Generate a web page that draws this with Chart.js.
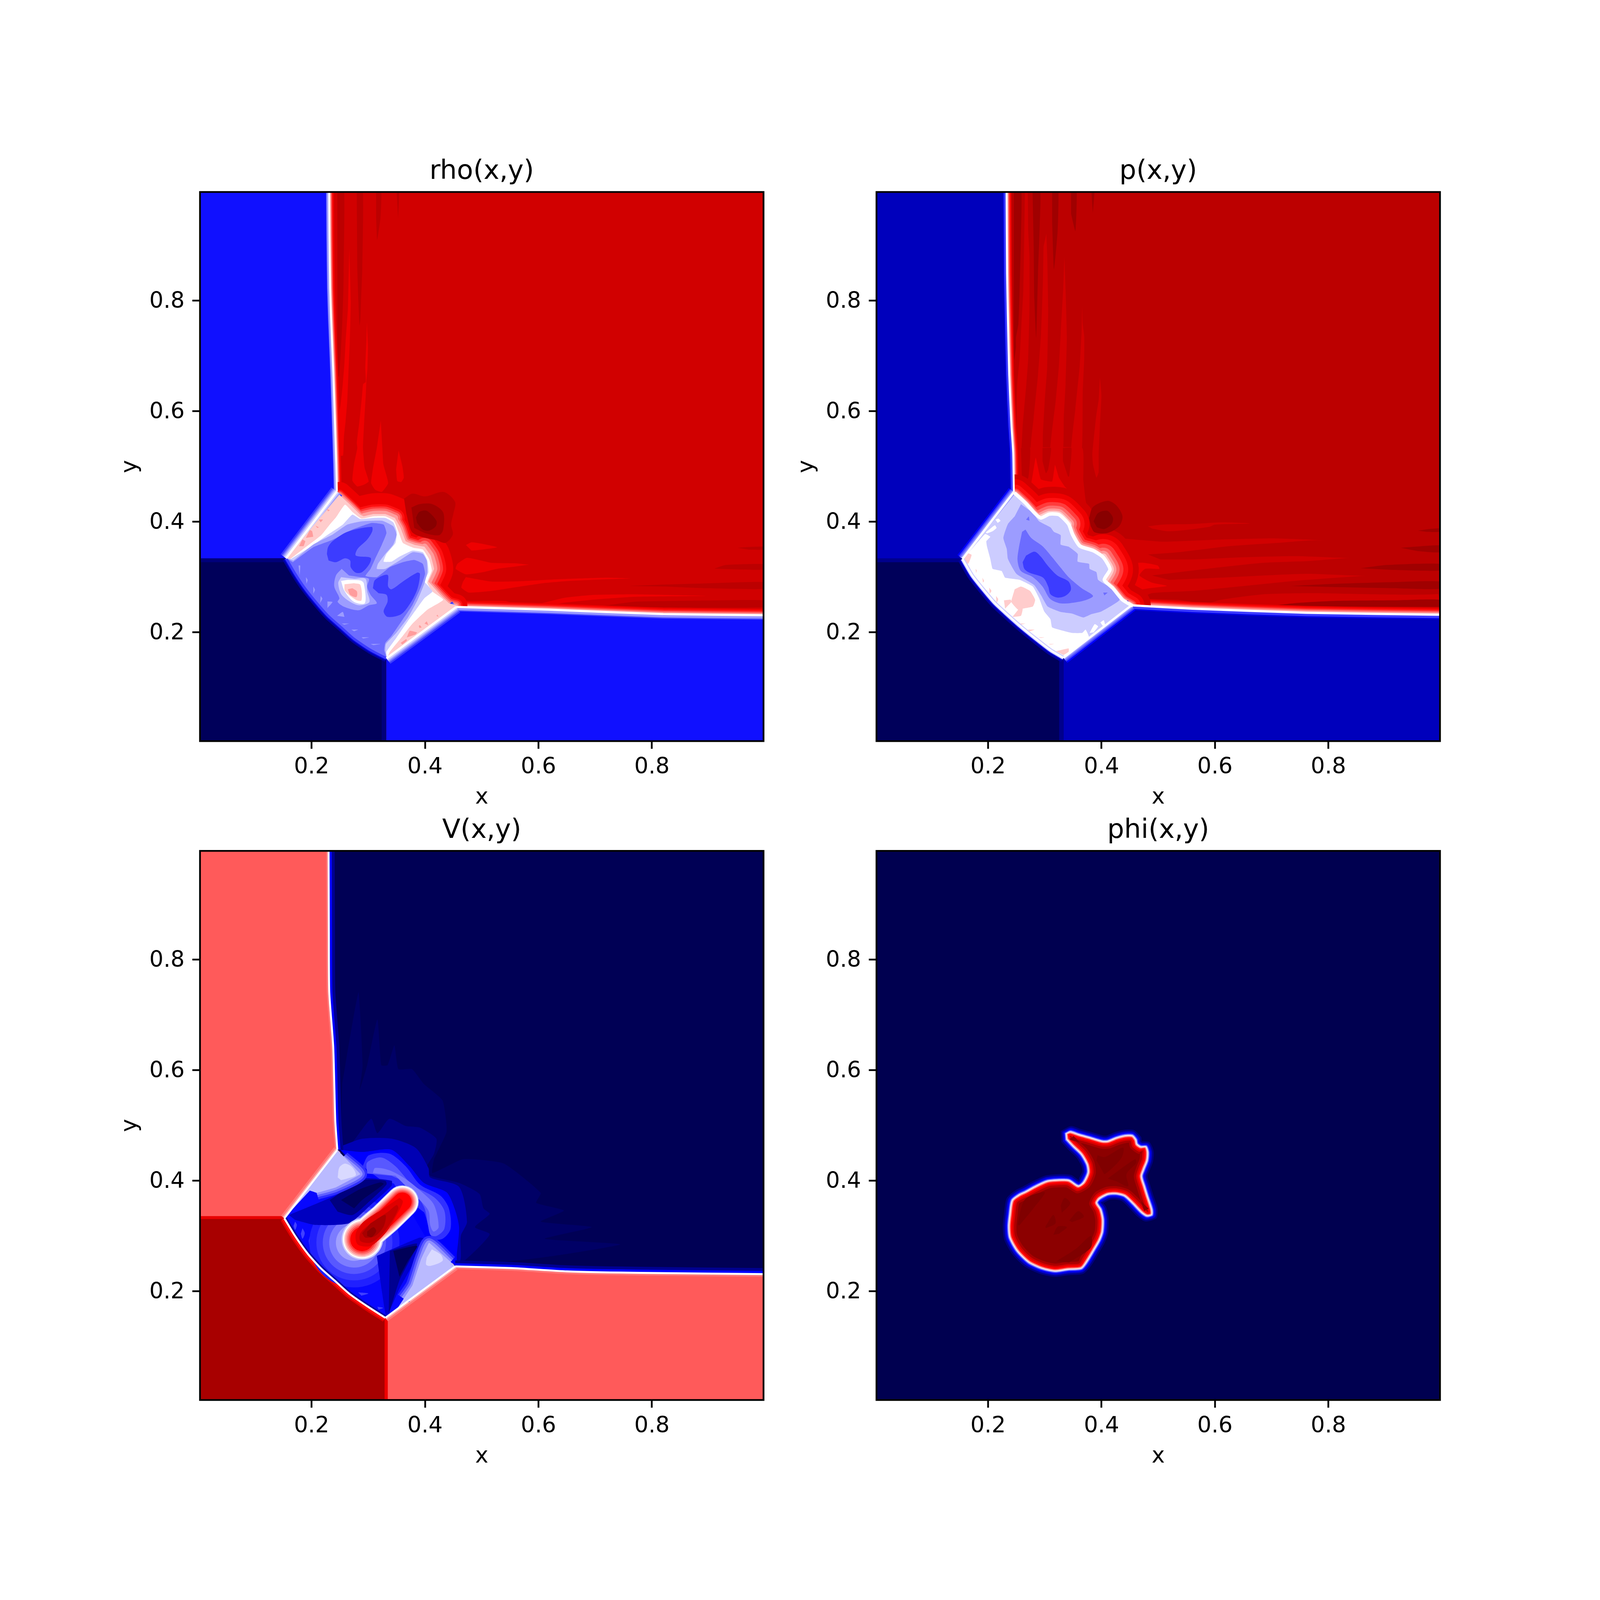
<!DOCTYPE html>
<html>
<head>
<meta charset="utf-8">
<title>rho p V phi</title>
<script src="https://cdn.jsdelivr.net/npm/chart.js@4/dist/chart.umd.js"></script>
<style>
html,body{margin:0;padding:0;background:#fff;width:100%;height:100%;overflow:hidden}
canvas{position:absolute}
</style>
</head>
<body>
<script>
var tickValues = [0.2, 0.4, 0.6, 0.8];
var axisMin = 0.00333, axisMax = 0.99667;
var wholeBox = [[0,0],[1,0],[1,1],[0,1]];
var frameBox = [[axisMin,axisMin],[axisMax,axisMin],[axisMax,axisMax],[axisMin,axisMax],[axisMin,axisMin]];

// all sizes below are written for a 5000px page, K fits them to the real window
var K = Math.min(window.innerWidth, window.innerHeight) / 5000;

// ---- rho ----
var rhoUpShock = [[.231,1],[.2315,.92],[.2327,.823],[.2345,.765],[.2383,.669],[.2402,.611],[.242,.553],[.2435,.504],[.2446,.455]];
var rhoLeftDiag = [[.2446,.455],[.155,.334]];
var rhoCurve = [[.155,.334],[.171,.306],[.188,.280],[.209,.253],[.229,.230],[.252,.209],[.275,.188],[.304,.168],[.332,.153]];
var rhoRightDiag = [[.332,.153],[.455,.246]];
var rhoRightShock = [[.455,.246],[.618,.241],[.820,.233],[.996,.231],[1,.231]];
var rhoContactA = [[.249,.449],[.269,.430],[.286,.413],[.292,.410]];
var rhoContactB1 = [[.292,.410],[.309,.414],[.330,.414],[.347,.407]];
var rhoContactB2 = [[.347,.407],[.357,.389],[.366,.365],[.383,.358],[.399,.355]];
var rhoContactB3 = [[.399,.355],[.410,.339],[.416,.315],[.406,.292]];
var rhoContactC = [[.406,.292],[.427,.268],[.442,.253],[.455,.249]];
var rhoWhiteEdge = [[.160,.331],[.188,.353],[.217,.376],[.232,.395],[.243,.408],[.259,.431],[.272,.418],[.288,.406],[.309,.410],[.330,.410],[.345,.402],[.353,.383],[.361,.362],[.380,.353],[.396,.350],[.407,.333],[.412,.312],[.404,.290],[.413,.274],[.432,.259],[.404,.241],[.378,.216],[.361,.194],[.338,.165]];
var rhoPaleEdge = [[.164,.333],[.197,.354],[.229,.377],[.255,.395],[.272,.413],[.286,.405],[.309,.407],[.330,.407],[.344,.399],[.350,.383],[.348,.362],[.332,.342],[.327,.328],[.341,.328],[.355,.337],[.378,.348],[.396,.345],[.404,.330],[.406,.309],[.399,.292],[.404,.286],[.413,.274],[.399,.262],[.384,.241],[.370,.221],[.350,.191],[.332,.165]];
var rhoMidEdge = [[.168,.330],[.203,.359],[.237,.377],[.263,.395],[.289,.401],[.324,.402],[.344,.392],[.350,.377],[.344,.359],[.330,.342],[.317,.324],[.315,.315],[.330,.315],[.355,.330],[.378,.345],[.396,.342],[.403,.330],[.404,.309],[.399,.289],[.387,.259],[.370,.227],[.350,.200],[.331,.179],[.330,.168]];
var rhoDeepEdge = [[.167,.327],[.203,.354],[.236,.367],[.272,.386],[.306,.398],[.327,.395],[.332,.380],[.324,.359],[.312,.333],[.304,.315],[.295,.302],[.315,.300],[.338,.318],[.361,.327],[.381,.331],[.396,.324],[.400,.306],[.393,.283],[.378,.250],[.361,.224],[.341,.194],[.330,.181],[.328,.168]];
var rhoLobeUpper = [[.227,.342],[.229,.354],[.237,.365],[.263,.382],[.306,.391],[.307,.383],[.298,.368],[.281,.351],[.278,.339],[.304,.335],[.302,.324],[.289,.309],[.278,.308],[.269,.318],[.268,.330],[.259,.334],[.243,.327],[.230,.330]];
var rhoLobeLower = [[.308,.280],[.312,.295],[.334,.304],[.335,.283],[.341,.278],[.361,.292],[.386,.308],[.391,.306],[.387,.280],[.376,.256],[.358,.233],[.334,.228],[.327,.238],[.334,.256],[.332,.268],[.318,.271]];
var rhoIsland1 = [[.253,.315],[.243,.303],[.240,.283],[.249,.262],[.246,.255],[.258,.246],[.283,.240],[.301,.249],[.315,.253],[.304,.268],[.298,.283],[.301,.297],[.286,.300],[.266,.303]];
var rhoIsland2 = [[.252,.300],[.247,.289],[.253,.268],[.272,.253],[.286,.249],[.302,.255],[.298,.274],[.295,.297],[.275,.297]];
var rhoIsland3 = [[.252,.293],[.258,.275],[.275,.255],[.294,.253],[.292,.289],[.286,.294],[.263,.295]];
var rhoIsland4 = [[.258,.287],[.259,.275],[.278,.259],[.288,.258],[.286,.286],[.275,.289]];
var rhoIsland5 = [[.264,.278],[.268,.268],[.279,.264],[.280,.274],[.272,.280]];
var rhoSpecks = [
  [[.177,.321],[.180,.321],[.179,.303]],[[.190,.300],[.193,.295],[.191,.288]],[[.203,.283],[.206,.277],[.203,.270]],
  [[.216,.266],[.219,.261],[.215,.253]],[[.228,.256],[.237,.255],[.228,.244]],[[.245,.230],[.255,.237],[.258,.228]],
  [[.253,.216],[.266,.216],[.258,.214]],[[.270,.205],[.282,.205],[.275,.202]],[[.288,.191],[.301,.191],[.291,.189]],
  [[.304,.179],[.321,.179],[.309,.177]]
];
var rhoPinkDots = [
  [[.178,.356],[.184,.368],[.189,.365],[.186,.356]],[[.190,.371],[.197,.385],[.201,.383],[.203,.373]],
  [[.207,.393],[.213,.390],[.210,.389]],[[.213,.404],[.220,.404],[.216,.399]],[[.227,.423],[.232,.421],[.229,.419]],
  [[.357,.181],[.367,.188],[.368,.185],[.360,.178]],[[.368,.191],[.373,.203],[.386,.200],[.383,.196]],
  [[.389,.212],[.391,.213],[.394,.209],[.390,.208]],[[.399,.216],[.403,.220],[.406,.213]],[[.420,.230],[.422,.232],[.424,.228]]
];
var rhoHalo1 = [[.363,.442],[.378,.451],[.400,.446],[.433,.454],[.453,.436],[.450,.415],[.446,.395],[.449,.377],[.436,.362],[.419,.367],[.390,.374],[.376,.383],[.367,.415]];
var rhoHalo2 = [[.376,.426],[.390,.432],[.413,.432],[.432,.417],[.432,.386],[.425,.376],[.402,.379],[.381,.389]];
var rhoHalo3 = [[.384,.408],[.390,.418],[.403,.420],[.420,.402],[.419,.392],[.407,.384],[.396,.386],[.386,.398]];
var rhoBright = [
  [[.2665,.895],[.269,.80],[.2674,.726],[.265,.669],[.263,.62],[.26,.582],[.257,.553],[.2555,.52],[.249,.52],[.247,.588],[.251,.611],[.255,.649],[.258,.688],[.26,.726],[.264,.784]],
  [[.2975,.761],[.2994,.717],[.2985,.678],[.2966,.653],[.2956,.630],[.2928,.582],[.2909,.543],[.2906,.5335],[.2935,.498],[.3007,.473],[.292,.467],[.2806,.464],[.272,.4745],[.2748,.504],[.2806,.5335],[.2797,.543],[.2844,.582],[.2891,.630],[.2909,.649],[.2956,.653],[.2947,.678],[.2966,.726]],
  [[.322,.583],[.3248,.533],[.3266,.504],[.335,.470],[.3238,.454],[.312,.458],[.305,.470],[.308,.495],[.315,.5335]],
  [[.3534,.529],[.360,.501],[.3626,.480],[.358,.472],[.351,.474],[.349,.495]],
  [[.472,.358],[.482,.363],[.502,.360],[.527,.354],[.502,.350],[.482,.348]],
  [[.583,.3226],[.558,.325],[.517,.326],[.474,.335],[.457,.324],[.454,.315],[.472,.305],[.502,.309],[.527,.315],[.558,.319]],
  [[.472,.300],[.517,.292],[.568,.2925],[.633,.296],[.719,.299],[.762,.2976],[.719,.296],[.653,.293],[.608,.289],[.568,.283],[.517,.275],[.477,.272],[.464,.281],[.467,.292]],
  [[.588,.2467],[.603,.252],[.648,.263],[.694,.2677],[.769,.2688],[.895,.266],[.769,.2644],[.694,.259],[.643,.2533],[.608,.2455]],
  [[.452,.250],[.482,.2566],[.542,.2566],[.568,.2478]]
];
var rhoDarkBands = [
  [[.2454,1],[.2573,1],[.2565,.85],[.2562,.823],[.2543,.765],[.2515,.707],[.2485,.663],[.2465,.663],[.2455,.72]],
  [[.2796,1],[.2904,1],[.2895,.86],[.2872,.80],[.2860,.765],[.2844,.755],[.2825,.80],[.2805,.86]],
  [[.3138,1],[.3228,1],[.3215,.95],[.3156,.91],[.3138,.95]],
  [[.3498,1],[.3545,1],[.3525,.948]],
  [[.951,.353],[.971,.3545],[.997,.355],[.997,.3497],[.971,.3497]],
  [[.910,.3153],[.930,.322],[.997,.3235],[.997,.3138],[.956,.3138]],
  [[.759,.284],[.820,.2865],[.895,.2887],[.997,.2910],[.997,.2788],[.895,.2799],[.820,.283]],
  [[.663,.2467],[.719,.2489],[.769,.2555],[.895,.2577],[.997,.258],[.997,.2456],[.769,.2456]]
];

// ---- p ----
var pUpShock = [[.2326,1],[.2335,.849],[.2352,.758],[.2373,.666],[.2412,.574],[.2443,.525],[.2455,.454]];
var pLeftDiag = [[.2455,.454],[.155,.333]];
var pCurve = [[.155,.333],[.172,.303],[.192,.277],[.212,.253],[.233,.233],[.256,.212],[.281,.191],[.310,.168],[.333,.154]];
var pRightDiag = [[.333,.154],[.453,.249]];
var pRightShock = [[.453,.249],[.560,.243],[.761,.2356],[.993,.232],[1,.232]];
var pContactA = [[.248,.451],[.267,.433],[.282,.416],[.293,.407]];
var pContactB1 = [[.293,.407],[.308,.414],[.325,.413],[.342,.396]];
var pContactB2 = [[.342,.396],[.349,.377],[.362,.356],[.385,.348],[.403,.336]];
var pContactB3 = [[.403,.336],[.415,.314],[.405,.295]];
var pContactC = [[.405,.295],[.420,.280],[.437,.259],[.453,.249]];
var pWhiteEdge = [[.159,.336],[.195,.378],[.204,.373],[.197,.365],[.198,.356],[.204,.333],[.208,.315],[.224,.311],[.230,.299],[.256,.295],[.279,.283],[.290,.262],[.299,.238],[.310,.224],[.313,.209],[.348,.199],[.366,.199],[.372,.205],[.378,.191],[.345,.162],[.335,.154]];
var pMid = [[.258,.432],[.279,.416],[.290,.401],[.310,.390],[.316,.382],[.328,.376],[.328,.359],[.342,.355],[.358,.342],[.358,.328],[.378,.324],[.379,.315],[.391,.309],[.394,.295],[.417,.280],[.432,.259],[.400,.238],[.382,.233],[.368,.227],[.348,.234],[.328,.237],[.305,.247],[.293,.268],[.281,.286],[.250,.306],[.235,.333],[.233,.351],[.227,.371],[.235,.396],[.247,.410]];
var pDeep = [[.266,.386],[.276,.371],[.296,.356],[.313,.336],[.328,.317],[.342,.300],[.365,.280],[.385,.266],[.371,.258],[.345,.253],[.325,.253],[.309,.261],[.296,.283],[.279,.300],[.258,.311],[.252,.330],[.254,.351],[.260,.382]];
var pCore = [[.267,.339],[.282,.346],[.293,.337],[.305,.321],[.322,.303],[.342,.292],[.346,.277],[.336,.266],[.322,.263],[.310,.269],[.306,.283],[.297,.299],[.273,.308],[.264,.315],[.261,.327]];
var pTinyDeep = [[[.267,.404],[.272,.410],[.273,.402]],[[.403,.272],[.411,.272],[.405,.267]]];
var pWhiteSpots = [
  [[.196,.381],[.212,.394],[.215,.389],[.208,.383],[.198,.379]],[[.213,.404],[.218,.406],[.222,.402],[.217,.398]],
  [[.379,.199],[.388,.215],[.394,.211],[.386,.200]],[[.398,.218],[.404,.222],[.406,.214],[.402,.212]]
];
var pPinkBlobs = [
  [[.247,.278],[.258,.283],[.274,.275],[.283,.259],[.279,.247],[.261,.243],[.253,.241],[.241,.255],[.244,.268]],
  [[.228,.258],[.240,.259],[.241,.255],[.230,.243]],[[.253,.241],[.261,.243],[.258,.230],[.243,.228]],
  [[.159,.339],[.165,.343],[.171,.340],[.165,.324],[.158,.331]],[[.320,.166],[.342,.171],[.342,.165],[.333,.159]],
  [[.178,.315],[.180,.312],[.179,.307]],[[.190,.299],[.193,.293],[.191,.290]],[[.202,.281],[.206,.275],[.203,.270]],
  [[.214,.266],[.218,.260],[.215,.253]],[[.254,.216],[.266,.216],[.258,.214]],[[.270,.205],[.282,.205],[.274,.202]],
  [[.289,.191],[.299,.191],[.293,.190]],[[.307,.179],[.316,.179],[.310,.178]]
];
var pHalo1 = [[.378,.407],[.385,.427],[.410,.438],[.426,.430],[.437,.410],[.431,.392],[.411,.380],[.388,.381],[.381,.392]];
var pHalo2 = [[.386,.401],[.394,.416],[.410,.420],[.420,.408],[.418,.396],[.405,.387],[.392,.390]];
var pDarkBands = [
  [[.2455,1],[.2585,1],[.2579,.911],[.2557,.819],[.2535,.758],[.2492,.733],[.2492,.715],[.246,.693],[.2455,.758]],
  [[.2784,1],[.2918,1],[.2913,.941],[.2881,.849],[.2849,.733],[.2816,.803],[.2805,.895]],
  [[.313,1],[.3237,1],[.3227,.926],[.3162,.857],[.313,.941]],
  [[.3464,1],[.3561,1],[.354,.926],[.3464,.957]],
  [[.3821,1],[.3875,1],[.3847,.958]]
];
var pLightBands = [
  [[.2650,1],[.2697,1],[.2708,.926],[.273,.880],[.273,.788],[.2708,.696],[.2676,.650],[.2637,.605],[.2611,.574],[.2579,.523],[.2514,.523],[.2503,.605],[.2514,.650],[.2557,.696],[.2589,.758],[.2622,.819],[.2637,.911]],
  [[.3028,.921],[.3043,.880],[.3060,.788],[.3043,.681],[.3,.620],[.2967,.559],[.2952,.523],[.2751,.523],[.2805,.589],[.2881,.666],[.2935,.742],[.2967,.834],[.2978,.898]],
  [[.3345,.880],[.3367,.819],[.3389,.736],[.3367,.650],[.3335,.589],[.3313,.523],[.3097,.523],[.3194,.620],[.3248,.681],[.3281,.742],[.3324,.819]],
  [[.3659,.791],[.3669,.758],[.3695,.736],[.3695,.696],[.3669,.635],[.3648,.523],[.3464,.523],[.354,.605],[.3615,.681],[.3648,.742]],
  [[.3972,.661],[.3998,.629],[.3972,.574],[.395,.523],[.395,.49],[.391,.480],[.385,.504],[.3838,.523],[.3907,.592],[.395,.62]]
];
var pHood = [[.247,.5335],[.366,.5335],[.368,.475],[.372,.439],[.378,.407],[.374,.383],[.36,.36],[.25,.40]];
var pHoodFingers = [[[.258,.5335],[.274,.5335],[.271,.480],[.260,.467]],[[.296,.5335],[.311,.5335],[.306,.495],[.302,.488],[.296,.510]],[[.332,.5335],[.347,.5335],[.343,.482],[.341,.482],[.332,.510]]];
var pHot = [[.251,.454],[.264,.469],[.276,.470],[.284,.516],[.293,.477],[.313,.473],[.318,.503],[.325,.480],[.336,.463],[.359,.442],[.372,.410],[.368,.386],[.371,.377],[.40,.36],[.25,.40]];
var pHotRight = [[[.449,.325],[.474,.326],[.499,.321],[.502,.315],[.477,.315],[.467,.303],[.489,.290],[.515,.284],[.467,.276],[.454,.252],[.429,.290],[.444,.312]],[[.509,.248],[.585,.254],[.575,.245]]];
var pWarmRight = [[.399,.373],[.459,.368],[.509,.364],[.610,.368],[.701,.370],[.789,.366],[.880,.335],[.923,.303],[.993,.270],[1,.236],[.454,.248],[.449,.312]];
var pRightFingers = [
  [[.482,.341],[.535,.345],[.625,.356],[.711,.362],[.789,.366],[.880,.335],[.741,.338],[.651,.336],[.560,.332],[.504,.332]],
  [[.489,.303],[.610,.318],[.686,.326],[.762,.329],[.880,.335],[.923,.303],[.762,.306],[.686,.303],[.610,.299],[.519,.295]],
  [[.467,.261],[.489,.271],[.560,.275],[.661,.285],[.762,.295],[.923,.303],[.998,.270],[.762,.271],[.686,.269],[.610,.259],[.585,.252],[.535,.259]]
];
var pLightTop = [[.482,.392],[.509,.395],[.560,.396],[.610,.399],[.661,.397],[.600,.395],[.590,.391],[.520,.383],[.489,.388]];
var pRightDark = [
  [[.928,.353],[.953,.355],[.998,.357],[.998,.345],[.958,.347]],[[.857,.316],[.903,.322],[.998,.324],[.998,.312],[.913,.313]],
  [[.731,.284],[.812,.288],[.913,.291],[.998,.292],[.998,.279],[.913,.280],[.812,.282]],
  [[.691,.247],[.741,.253],[.812,.257],[.913,.258],[.998,.259],[.998,.246]],[[.958,.384],[.978,.387],[.998,.388],[.998,.382],[.973,.382]]
];

// ---- V ----
var vUpShock = [[.2300,1],[.2305,.85],[.2312,.741],[.2382,.642],[.2418,.509],[.2454,.456]];
var vLeftDiag = [[.2454,.456],[.152,.332]];
var vCurve = [[.152,.332],[.171,.300],[.194,.267],[.217,.241],[.240,.220],[.266,.196],[.298,.173],[.330,.152]];
var vRightDiag = [[.330,.152],[.453,.245]];
var vRightShock = [[.453,.245],[.553,.242],[.65,.236],[.779,.2333],[1,.231]];
var vFan = [[.2454,.456],[.286,.412],[.320,.400],[.345,.395],[.40,.30],[.407,.288],[.453,.245]];
var vGlow0 = [[.254,.575],[.262,.625],[.276,.708],[.283,.741],[.290,.609],[.285,.565],[.298,.609],[.316,.692],[.323,.609],[.334,.609],[.346,.645],[.353,.602],[.377,.602],[.398,.575],[.431,.545],[.438,.489],[.416,.439],[.413,.414],[.467,.439],[.539,.431],[.604,.378],[.596,.360],[.645,.346],[.604,.326],[.694,.316],[.611,.295],[.744,.285],[.647,.267],[.575,.257],[.467,.253],[.251,.456]];
var vGlow1 = [[.249,.456],[.269,.466],[.305,.512],[.316,.486],[.337,.512],[.366,.499],[.391,.496],[.420,.476],[.416,.449],[.402,.423],[.409,.409],[.460,.396],[.496,.376],[.503,.350],[.514,.340],[.488,.316],[.514,.303],[.467,.253],[.452,.250]];
var vGlow2 = [[.251,.462],[.290,.476],[.341,.476],[.384,.459],[.406,.423],[.409,.406],[.460,.389],[.474,.326],[.463,.300],[.460,.253],[.40,.28]];
var vGlow3 = [[.251,.456],[.290,.452],[.341,.456],[.373,.426],[.398,.396],[.438,.379],[.452,.350],[.460,.316],[.456,.267],[.454,.247],[.40,.28]];
var vGlow4 = [[.290,.426],[.301,.446],[.337,.449],[.366,.426],[.391,.393],[.427,.373],[.442,.350],[.445,.313],[.431,.295],[.413,.296],[.398,.343]];
var vGlow5 = [[.298,.413],[.298,.433],[.323,.442],[.348,.426],[.377,.393],[.416,.370],[.434,.346],[.434,.313],[.420,.300],[.409,.303],[.398,.353],[.366,.396],[.341,.409]];
var vGlow6 = [[.308,.414],[.312,.423],[.337,.419],[.366,.403],[.395,.379],[.416,.356],[.424,.316],[.415,.308],[.409,.320],[.406,.346],[.380,.376],[.348,.409]];
var vChannel = [[.384,.330],[.398,.343],[.407,.300],[.373,.243],[.319,.267],[.334,.280]];
var vRingCentre = [[.275,.288],[.276,.289]];
var vDarkUp1 = [[.160,.338],[.243,.374],[.289,.404],[.341,.400],[.341,.391],[.304,.356],[.266,.323],[.206,.320],[.171,.329]];
var vDarkUp2 = [[.232,.365],[.286,.400],[.330,.400],[.332,.393],[.298,.359],[.272,.338],[.246,.344]];
var vDarkUp3 = [[.252,.365],[.286,.385],[.321,.397],[.327,.394],[.289,.365],[.275,.350]];
var vDarkLow1 = [[.315,.264],[.390,.297],[.402,.294],[.376,.244],[.355,.205],[.332,.155],[.324,.199]];
var vDarkLow2 = [[.338,.273],[.386,.286],[.355,.220],[.336,.158]];
var vDarkLow3 = [[.344,.273],[.386,.282],[.370,.255],[.355,.226]];
var vWedgeUpEdge = [[.255,.442],[.286,.412],[.243,.388],[.209,.378]];
var vWedgeUp = [[.2454,.456],[.286,.412],[.243,.388],[.209,.378],[.197,.382],[.152,.332]];
var vWedgeUpPale = [[.246,.406],[.249,.424],[.259,.431],[.272,.424],[.278,.410],[.263,.404],[.252,.401]];
var vWedgeLowEdge = [[.445,.253],[.407,.288],[.393,.258],[.378,.211],[.362,.187]];
var vWedgeLow = [[.453,.246],[.407,.288],[.393,.258],[.378,.211],[.350,.167],[.332,.152]];
var vWedgeLowPale = [[.412,.276],[.428,.266],[.431,.255],[.410,.246],[.402,.248],[.403,.261]];
var vCapsule = [[.289,.291],[.304,.309],[.330,.332],[.360,.362]];
var vCapsuleEnd = [[.289,.294],[.290,.295]];
var vCore1 = [[.355,.369],[.361,.362],[.350,.338],[.330,.305],[.304,.282],[.281,.285],[.278,.305],[.292,.326],[.327,.350]];
var vCore2 = [[.335,.344],[.350,.356],[.353,.350],[.341,.326],[.324,.303],[.304,.288],[.286,.291],[.286,.305],[.304,.323]];
var vCore3 = [[.304,.323],[.330,.338],[.327,.317],[.312,.300],[.295,.297],[.289,.305]];
var vCore4 = [[.298,.308],[.309,.316],[.314,.309],[.306,.298],[.298,.300]];
var vPetals = [[[.171,.326],[.174,.320],[.171,.311],[.168,.318]],[[.184,.314],[.188,.305],[.184,.295],[.181,.304]],[[.197,.300],[.200,.291],[.197,.280],[.195,.291]],[[.263,.210],[.278,.214],[.272,.208]],[[.282,.198],[.300,.196],[.288,.192]],[[.316,.172],[.326,.170],[.318,.167]]];

// ---- phi ----
var phiOutline = [[.338,.485],[.345,.488],[.360,.483],[.381,.477],[.401,.471],[.411,.471],[.426,.477],[.441,.481],[.454,.481],[.460,.474],[.462,.466],[.469,.461],[.478,.461],[.481,.452],[.480,.437],[.474,.421],[.470,.408],[.475,.390],[.481,.370],[.488,.348],[.488,.339],[.480,.337],[.471,.343],[.456,.359],[.441,.373],[.426,.377],[.411,.376],[.396,.368],[.391,.360],[.398,.348],[.402,.330],[.401,.308],[.396,.293],[.386,.275],[.373,.253],[.364,.242],[.340,.240],[.318,.237],[.295,.242],[.272,.253],[.252,.273],[.239,.297],[.237,.317],[.239,.339],[.243,.364],[.255,.374],[.267,.380],[.285,.390],[.305,.399],[.328,.401],[.343,.400],[.359,.390],[.369,.397],[.377,.415],[.375,.430],[.365,.448],[.350,.463],[.339,.475]];
var phiBlotches = [
  [[.393,.446],[.406,.443],[.438,.460],[.435,.441],[.406,.412],[.401,.419],[.391,.437]],
  [[.411,.404],[.459,.439],[.461,.432],[.444,.412],[.447,.390],[.426,.399]],
  [[.252,.321],[.265,.366],[.300,.379],[.280,.350],[.255,.319]],
  [[.328,.355],[.335,.369],[.345,.359],[.330,.342]],
  [[.343,.328],[.359,.345],[.369,.335],[.348,.325]],
  [[.301,.317],[.315,.338],[.319,.323],[.302,.314]],
  [[.315,.302],[.323,.317],[.339,.316],[.325,.304]],
  [[.320,.254],[.355,.277],[.381,.300],[.381,.279],[.343,.252]]
];

// colours of the contour levels
var blue1='#ccccff', blue2='#9c9cff', blue3='#6c6cff', blue4='#3c3cff', blue5='#1010ff';
var red1='#ffcccc', red2='#ff9c9c', red3='#ff6c6c', red4='#ff3c3c', red5='#ff1010', red6='#ee0000', red7='#d10000', red8='#bc0000', red9='#a00000', red10='#880000';
var navy='#00005a';

function pts(a){ return a.map(function(p){ return {x:p[0],y:p[1]}; }); }
function area(points,color,tension){
  return {data:pts(points),showLine:true,pointRadius:0,borderWidth:0,borderColor:color,backgroundColor:color,
    fill:'shape',tension:tension===undefined?0.3:tension,clip:0};
}
function line(points,color,width,cap){
  return {data:pts(points),showLine:true,pointRadius:0,borderWidth:width*K,borderColor:color,fill:false,
    tension:0.2,borderJoinStyle:'round',borderCapStyle:cap||'butt',clip:0};
}
function areas(list,color,tension){ return list.map(function(a){ return area(a,color,tension); }); }
function shift(points,dx,dy){ return points.map(function(p){ return [p[0]+dx,p[1]+dy]; }); }
function back(points){ return points.slice().reverse(); }
function lines(points,specs,cap){ return specs.map(function(s){ return line(points,s[0],s[1],cap); }); }
// same contact line, a wider band on some stretches than on others
function bands(parts,colors,widths){
  var out=[];
  colors.forEach(function(c,i){ parts.forEach(function(part,j){ out.push(line(part,c,widths[j][i],'round')); }); });
  return out;
}
function grow(ring,d){
  var s=0,n=ring.length;
  ring.forEach(function(p,i){ var q=ring[(i+1)%n]; s+=p[0]*q[1]-q[0]*p[1]; });
  var sign=s>0?1:-1;
  return ring.map(function(p,i){
    var a=ring[(i-1+n)%n], b=ring[(i+1)%n], dx=b[0]-a[0], dy=b[1]-a[1], len=Math.sqrt(dx*dx+dy*dy);
    return [p[0]+sign*d*dy/len, p[1]-sign*d*dx/len];
  });
}

function rhoLayers(){
  var diamond=[].concat(rhoContactA,rhoContactB1,rhoContactB2,rhoContactB3,rhoContactC,back(rhoRightDiag),back(rhoCurve));
  var tl=[].concat([[0,1]],rhoUpShock,[[.155,.334],[0,.3333]]);
  var br=[].concat([[.3315,0],[.3315,.153]],rhoRightDiag,rhoRightShock,[[1,0]]);
  var bl=[].concat([[0,0],[0,.3333]],rhoCurve,[[.3315,.153],[.3315,0]]);
  return [].concat(
    [area(wholeBox,red7,0)],
    areas(rhoDarkBands,red8,.15),
    areas(rhoBright,red6,.15),
    lines(rhoRightShock,[[red6,40],[red5,32],[red4,24],[red3,18],[red2,12]]),
    lines(rhoUpShock,[[red6,30],[red5,22],[red4,18],[red3,14],[red2,10]]),
    bands([rhoContactA,rhoContactB1,rhoContactB2,rhoContactB3,rhoContactC],[red6,red5,red4,red3,red2],
      [[80,32,24,18,10],[130,60,46,34,20],[66,46,34,24,14],[120,76,56,38,20],[70,40,30,20,10]]),
    [area(rhoHalo1,red8),area(rhoHalo2,red9),area(rhoHalo3,red10)],
    [area(tl,blue5,0),area(br,blue5,0),area(bl,navy,0)],
    [line([[.3275,0],[.3275,.153]],'#00007a',14),line([[0,.3305],[.155,.3305]],'#00007a',12)],
    lines(shift(rhoUpShock,-.003,0),[[blue4,10],[blue2,6]]),
    lines(shift(rhoRightShock,0,-.004),[[blue4,14],[blue3,9],[blue2,5]]),
    lines(rhoLeftDiag,[[blue4,42],[blue3,32],[blue2,24],[blue1,16]]),
    lines(rhoRightDiag,[[blue4,42],[blue3,32],[blue2,24],[blue1,16]]),
    lines(rhoCurve,[['#0000a0',24],['#0000e0',14]]),
    [area(diamond,red1,.05)],
    [area(rhoWhiteEdge.concat(back(rhoCurve)),'#ffffff',.15),
     area(rhoPaleEdge.concat(back(rhoCurve)),blue1,.15),
     area(rhoMidEdge.concat(back(rhoCurve)),blue2,.15),
     area(rhoDeepEdge.concat(back(rhoCurve)),blue3,.15)],
    [area(rhoLobeUpper,blue4),area(rhoLobeLower,blue4)],
    [area(rhoIsland1,blue2),area(rhoIsland2,blue1),area(rhoIsland3,'#ffffff'),area(rhoIsland4,red1),area(rhoIsland5,red2)],
    areas(rhoSpecks,blue2,.2),
    areas(rhoPinkDots,red2,.1),
    lines(rhoCurve,[[blue4,8]]),
    lines(rhoLeftDiag,[['#ffffff',7]]),
    lines(rhoRightDiag,[['#ffffff',7]]),
    lines(rhoUpShock,[['#ffffff',6]]),
    lines(rhoRightShock,[['#ffffff',7]])
  );
}

function pLayers(){
  var base='#bc0000', blueP='#0000bc', mid=red7;
  var diamond=[].concat(pContactA,pContactB1,pContactB2,pContactB3,pContactC,back(pRightDiag),back(pCurve));
  var tl=[].concat([[0,1]],pUpShock,[[.155,.333],[0,.3333]]);
  var br=[].concat([[.3333,0],[.3333,.154]],pRightDiag,pRightShock,[[1,0]]);
  var bl=[].concat([[0,0],[0,.3333]],pCurve,[[.3333,.154],[.3333,0]]);
  return [].concat(
    [area(wholeBox,base,0)],
    areas(pDarkBands,red9,.15),
    areas(pLightBands,mid,.15),
    [area(pHood,mid,.1)],
    areas(pHoodFingers,base,.15),
    [area(pWarmRight,mid,.1)],
    areas(pRightFingers,base,.2),
    [area(pLightTop,mid)],
    areas(pRightDark,red9,.2),
    [area(pHot,red6,.1)],
    areas(pHotRight,red6,.2),
    lines(pRightShock,[[red6,42],[red5,34],[red4,26],[red3,20],[red2,14]]),
    lines(pUpShock,[[red6,30],[red5,24],[red4,18],[red3,14],[red2,10]]),
    bands([pContactA,pContactB1,pContactB2,pContactB3,pContactC],[mid,red6,red5,red4,red3,red2,red1],
      [[120,90,56,32,24,16,8],[170,130,100,74,52,34,20],[110,84,66,50,36,24,14],[180,144,114,84,60,40,24],[120,80,56,32,24,16,8]]),
    [area(pHalo1,red9),area(pHalo2,red10)],
    [area(tl,blueP,0),area(br,blueP,0),area(bl,navy,0)],
    [line([[.3293,0],[.3293,.154]],'#00008c',14),line([[0,.3305],[.155,.3305]],'#00008c',12)],
    lines(shift(pUpShock,-.003,0),[['#0000e8',12],[blue4,7]]),
    lines(shift(pRightShock,0,-.004),[['#0000e8',16],[blue4,8]]),
    lines(pLeftDiag,[['#0000ff',40],[blue4,30],[blue3,22],[blue2,14]]),
    lines(pRightDiag,[['#0000ff',40],[blue4,30],[blue3,22],[blue2,14]]),
    lines(pCurve,[['#0000a0',30],['#0000e0',18]]),
    [area(diamond,blue1,.05)],
    [area(pWhiteEdge.concat(back(pCurve)),'#ffffff',.1)],
    areas(pWhiteSpots,'#ffffff',.15),
    areas(pPinkBlobs,red1,.15),
    [area(pMid,blue2,.15),area(pDeep,blue3),area(pCore,blue4)],
    areas(pTinyDeep,blue3,0),
    lines(pCurve,[[blue1,12],['#ffffff',6]]),
    lines(pLeftDiag,[['#ffffff',7]]),
    lines(pRightDiag,[['#ffffff',7]]),
    lines(pContactA.concat(pContactB1.slice(1),pContactB2.slice(1),pContactB3.slice(1),pContactC.slice(1)),[['#ffffff',11]],'round'),
    lines(pUpShock,[['#ffffff',6]]),
    lines(pRightShock,[['#ffffff',7]])
  );
}

function vLayers(){
  var salmon='#ff5a5a', dark='#a80000', pale='#babaff', paler='#d9d9ff';
  var fan=vFan.concat([[.330,.152]],back(vCurve).slice(1));
  var tl=[].concat([[0,1]],vUpShock,[[.152,.332],[0,.3333]]);
  var br=[].concat([[.3315,0],[.3315,.152]],vRightDiag,vRightShock,[[1,0]]);
  var bl=[].concat([[0,0],[0,.3333]],vCurve,[[.3315,.152],[.3315,0]]);
  return [].concat(
    [area(wholeBox,'#000055',0)],
    [area(vGlow0,'#000066',.15),area(vGlow1,'#000080',.2),area(vGlow2,'#0000b4',.25),area(vGlow3,'#0000ff',.25),
     area(vGlow4,'#3030ff',.3),area(vGlow5,'#5858ff',.3),area(vGlow6,'#7878ff',.3)],
    [area(vChannel,'#0000ff',.2)],
    lines(vUpShock,[['#000090',38],['#0000ff',20]]),
    lines(vRightShock,[['#000090',38],['#0000ff',20]]),
    [area(tl,salmon,0),area(br,salmon,0),area(bl,dark,0)],
    [line([[.3315,0],[.3315,.152]],'#f00000',10),line([[0,.3333],[.152,.3333]],'#e80000',9)],
    lines(shift(vUpShock,-.002,0),[['#ff7878',8]]),
    lines(shift(vRightShock,0,-.0025),[['#ff7878',8]]),
    lines(vLeftDiag,[['#ff7878',26],['#ffaaaa',14]]),
    lines(vRightDiag,[['#ff7878',26],['#ffaaaa',14]]),
    lines(vCurve,[['#e00000',28],['#ff1010',18]]),
    [area(fan,'#0808ff',.03)],
    areas(vPetals,'#4040ff',.3),
    lines(vRingCentre,[['#2020ff',280],['#3838ff',236],['#5858ff',196],['#7c7cff',156],['#a0a0ff',114]],'round'),
    [area(vDarkUp1,'#0000c0',.2),area(vDarkUp2,'#000080',.25),area(vDarkUp3,'#00005a',.25)],
    [area(vDarkLow1,'#0000d0',.15),area(vDarkLow2,'#000090',.15),area(vDarkLow3,'#00005a',.2)],
    lines(vWedgeUpEdge,[['#3030ff',42],['#6060ff',28],['#9090ff',14]]),
    lines(vWedgeLowEdge,[['#3030ff',42],['#6060ff',28],['#9090ff',14]]),
    [area(vWedgeUp,pale,.03),area(vWedgeLow,pale,.03)],
    [area(vWedgeUpPale,paler),area(vWedgeLowPale,paler)],
    lines(vCapsuleEnd,[[blue1,128]],'round'),
    lines(vCapsule,[[blue1,102]],'round'),
    lines(vCapsuleEnd,[['#ffffff',120]],'round'),
    lines(vCapsule,[['#ffffff',97]],'round'),
    lines(vCapsuleEnd,[[red1,112]],'round'),
    lines(vCapsule,[[red1,90]],'round'),
    lines(vCapsuleEnd,[[red2,104]],'round'),
    lines(vCapsule,[[red2,82]],'round'),
    lines(vCapsuleEnd,[[red3,94]],'round'),
    lines(vCapsule,[[red3,74]],'round'),
    lines(vCapsuleEnd,[[red4,84]],'round'),
    lines(vCapsule,[[red4,66]],'round'),
    lines(vCapsuleEnd,[['#ff0000',74]],'round'),
    lines(vCapsule,[['#ff0000',58]],'round'),
    [area(vCore1,'#e00000'),area(vCore2,'#c40000'),area(vCore3,'#a80000'),area(vCore4,'#8c0000')],
    lines(shift(vCurve,.002,.002),[['#0000a0',6]]),
    lines(vCurve,[['#ffffff',6]]),
    lines(vLeftDiag,[['#ffffff',6]]),
    lines(vRightDiag,[['#ffffff',6]]),
    lines(vUpShock,[['#ffffff',6]]),
    lines(vRightShock,[['#ffffff',6]])
  );
}

function phiLayers(){
  var rings=[[.011,'#000080'],[.008,'#0000c8'],[.0055,'#0000ff'],[.0035,'#6060ff'],[.002,'#b8b8ff'],[.0008,'#ffffff'],
    [0,'#ffb8b8'],[-.0015,'#ff6060'],[-.003,'#ff0000'],[-.006,'#d80000'],[-.009,'#aa0000'],[-.013,'#8c0000']];
  return [].concat(
    [area(wholeBox,'#000050',0)],
    rings.map(function(r){ return area(grow(phiOutline,r[0]),r[1],.25); }),
    areas(phiBlotches,'#800000',.3)
  );
}

function panel(title,layers,left,top,withY){
  var W=1761*K,H=1716*K,marginLeft=300*K,marginTop=200*K,marginRight=20*K,axisH=250*K;
  var titleFont=83.33*K,titlePad=21*K;
  var c=document.createElement('canvas');
  var x0=Math.round((left*K)-marginLeft), y0=Math.round((top*K)-marginTop);
  // keep the plot box at its exact place once the canvas corner is rounded
  var padTop=(top*K-y0)-titleFont-titlePad;
  var yWidth=left*K-x0;
  c.width=Math.ceil(yWidth+W+marginRight); c.height=Math.round(top*K-y0+H+axisH);
  c.style.left=x0+'px'; c.style.top=y0+'px';
  document.body.appendChild(c);
  var frame=line(frameBox,'#000',5.5,'square');
  frame.tension=0; frame.clip=false; frame.borderJoinStyle='miter';
  var sets=[frame].concat(layers.slice().reverse());
  var tickFont={family:'DejaVu Sans',size:69.44*K,lineHeight:1};
  var gridOpts={drawOnChartArea:false,drawTicks:true,tickLength:24*K,tickWidth:5.5*K,tickColor:'#000',color:'#000'};
  function setTicks(s){ s.ticks=tickValues.map(function(v){ return {value:v}; }); }
  function fmt(v){ return Number(v).toFixed(1); }
  return new Chart(c,{
    type:'scatter',
    data:{datasets:sets},
    options:{
      responsive:false,animation:false,devicePixelRatio:1,events:[],
      layout:{padding:{top:padTop,right:c.width-yWidth-W,left:0,bottom:0}},
      plugins:{
        legend:{display:false},tooltip:{enabled:false},
        title:{display:true,text:title,fullSize:false,color:'#000',font:{family:'DejaVu Sans',size:titleFont,weight:'normal',lineHeight:1},padding:{top:0,bottom:titlePad}}
      },
      scales:{
        x:{type:'linear',min:axisMin,max:axisMax,afterBuildTicks:setTicks,afterFit:function(s){s.height=c.height-(top*K-y0)-H;},
          grid:gridOpts,border:{display:false},
          ticks:{color:'#000',font:tickFont,padding:24*K,maxRotation:0,minRotation:0,autoSkip:false,callback:fmt},
          title:{display:true,text:'x',color:'#000',font:tickFont,padding:{top:0,bottom:38*K}}},
        y:{type:'linear',min:axisMin,max:axisMax,afterBuildTicks:setTicks,afterFit:function(s){s.width=yWidth;},
          grid:gridOpts,border:{display:false},
          ticks:{color:'#000',font:tickFont,padding:24*K,labelOffset:4*K,autoSkip:false,callback:fmt},
          title:{display:withY,text:'y',color:'#000',font:tickFont,padding:{top:48*K,bottom:0}}}
      }
    }
  });
}

panel('rho(x,y)',rhoLayers(),625,600,true);
panel('p(x,y)',pLayers(),2739,600,true);
panel('V(x,y)',vLayers(),625,2659,true);
panel('phi(x,y)',phiLayers(),2739,2659,false);
</script>
</body>
</html>
